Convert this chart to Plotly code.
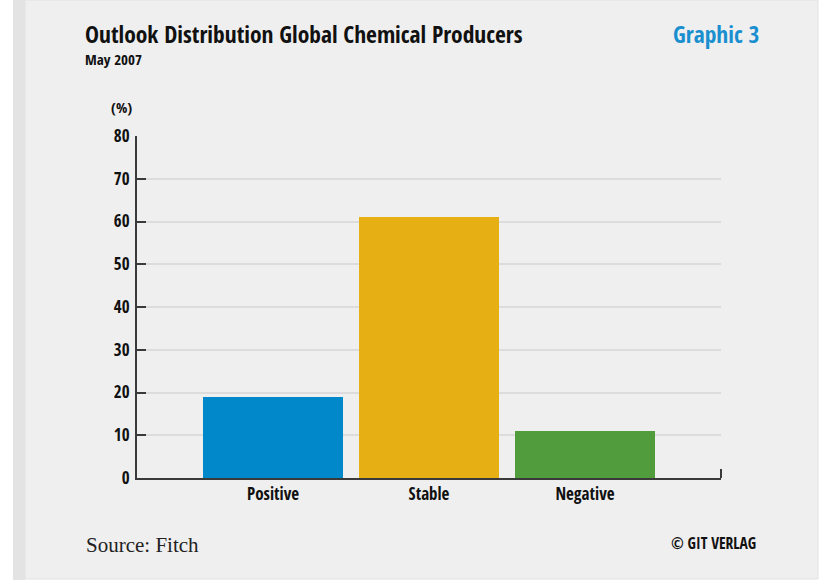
import plotly.graph_objects as go

categories = ["Positive", "Stable", "Negative"]
values = [19, 61, 11]
colors = ["#0088cb", "#e6b014", "#519d3e"]
y_ticks = [0, 10, 20, 30, 40, 50, 60, 70, 80]

W, H = 821, 582
L, R, T, B = 137, 721, 136, 478  # plot area in pixels

def px(x):
    return (x - L) / (R - L)

def py(y):
    return (B - y) / (B - T)

COND = "Open Sans Condensed, Roboto Condensed, sans-serif"

fig = go.Figure()
fig.add_trace(go.Bar(
    x=categories, y=values,
    marker=dict(color=colors, line=dict(width=0)),
    width=140 / 156,
    hoverinfo="x+y",
))

shapes = [
    dict(type="rect", xref="paper", yref="paper", x0=px(0), x1=px(W), y0=py(H), y1=py(0),
         fillcolor="#ffffff", line=dict(width=0), layer="below"),
    dict(type="rect", xref="paper", yref="paper", x0=px(13), x1=px(25), y0=py(580), y1=py(0),
         fillcolor="#e3e3e3", line=dict(width=0), layer="below"),
    dict(type="rect", xref="paper", yref="paper", x0=px(25), x1=px(818), y0=py(579), y1=py(0),
         fillcolor="#efefef", line=dict(color="#e2e2e2", width=1), layer="below"),
    dict(type="line", xref="paper", yref="paper", x0=px(721), x1=px(721), y0=py(478), y1=py(469),
         line=dict(color="#3a3a3a", width=2)),
]

annotations = [
    dict(text="Outlook Distribution Global Chemical Producers", x=px(84), y=py(51),
         xref="paper", yref="paper", xanchor="left", yanchor="bottom", showarrow=False, borderpad=0,
         font=dict(family=COND, size=23.5, color="#111111", weight="bold")),
    dict(text="May 2007", x=px(84), y=py(70), xref="paper", yref="paper",
         xanchor="left", yanchor="bottom", showarrow=False, borderpad=0,
         font=dict(family=COND, size=15, color="#111111", weight="bold")),
    dict(text="Graphic 3", x=px(760), y=py(51), xref="paper", yref="paper",
         xanchor="right", yanchor="bottom", showarrow=False, borderpad=0,
         font=dict(family=COND, size=23.5, color="#1a8fd0", weight="bold")),
    dict(text="(%)", x=px(109), y=py(119), xref="paper", yref="paper",
         xanchor="left", yanchor="bottom", showarrow=False,
         font=dict(family=COND, size=15, color="#111111", weight="bold")),
    dict(text="Source: Fitch", x=px(84), y=py(559), xref="paper", yref="paper",
         xanchor="left", yanchor="bottom", showarrow=False,
         font=dict(family="Liberation Serif, DejaVu Serif, serif", size=21, color="#222222")),
    dict(text="© GIT VERLAG", x=px(758), y=py(556), xref="paper", yref="paper",
         xanchor="right", yanchor="bottom", showarrow=False,
         font=dict(family=COND, size=15.5, color="#111111", weight="bold")),
]

fig.update_layout(
    width=W, height=H,
    margin=dict(l=L, r=W - R, t=T, b=H - B, pad=0),
    paper_bgcolor="#efefef", plot_bgcolor="rgba(0,0,0,0)",
    showlegend=False,
    shapes=shapes,
    annotations=annotations,
    xaxis=dict(
        range=[-0.872, 2.872], showgrid=False, showline=True, linecolor="#3a3a3a", linewidth=2,
        ticks="", tickfont=dict(family=COND, size=17, color="#111111", weight="bold"),
        fixedrange=True,
    ),
    yaxis=dict(
        range=[0, 80], tickvals=y_ticks, showgrid=True, gridcolor="#dcdcdc", gridwidth=2,
        showline=True, linecolor="#3a3a3a", linewidth=2, zeroline=False,
        ticks="inside", ticklen=9, tickwidth=2, tickcolor="#3a3a3a",
        tickfont=dict(family=COND, size=17, color="#111111", weight="bold"),
        ticklabelstandoff=2, fixedrange=True,
    ),
    bargap=0,
)

fig.write_html("out.html")
